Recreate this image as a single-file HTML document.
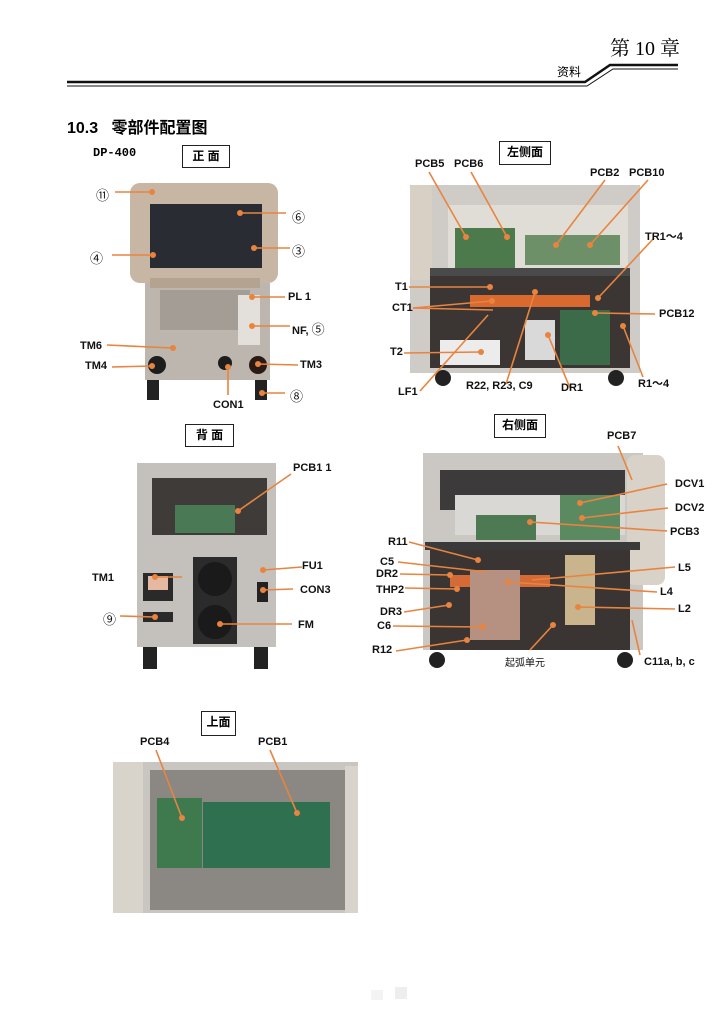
<!DOCTYPE html>
<html><head><meta charset="utf-8"><style>
body{margin:0;background:#fff;}
#p{position:relative;width:727px;height:1036px;overflow:hidden;font-family:"Liberation Sans","Noto Sans CJK SC",sans-serif;}
.a{position:absolute;}
.t{position:absolute;font-size:11px;font-weight:bold;color:#111;white-space:nowrap;font-family:"Liberation Sans Narrow","Liberation Sans","Noto Sans CJK SC",sans-serif;}
.box{position:absolute;border:1px solid #222;font-size:12px;font-weight:bold;text-align:center;line-height:20px;background:#fff;font-family:"Liberation Sans","Noto Sans CJK SC",sans-serif;}
</style></head><body><div id="p">
<div class="a" style="left:610px;top:37px;font-size:20px;line-height:24px;font-family:'Liberation Serif','Noto Serif CJK SC',serif;">第 10 章</div>
<div class="a" style="left:557px;top:64px;font-size:12px;line-height:16px;font-family:'Noto Sans CJK SC',sans-serif;">资料</div>
<svg class="a" style="left:0;top:0" width="727" height="1036">
<polyline points="67,82 585,82 610,65 678,65" fill="none" stroke="#111" stroke-width="2.5"/>
<polyline points="67,86 587,86 613,69 678,69" fill="none" stroke="#111" stroke-width="1"/>
</svg>
<div class="a" style="left:67px;top:114px;font-size:16px;font-weight:bold;font-family:'Liberation Sans','Noto Sans CJK SC',sans-serif;">10.3&nbsp;&nbsp; 零部件配置图</div>
<div class="a" style="left:93px;top:146px;font-size:12px;font-weight:bold;font-family:'Liberation Mono',monospace;">DP-400</div>
<div class="box" style="left:182px;top:145px;width:46px;height:21px;">正 面</div>
<div class="box" style="left:499px;top:141px;width:50px;height:22px;">左侧面</div>
<div class="box" style="left:185px;top:424px;width:47px;height:21px;">背 面</div>
<div class="box" style="left:494px;top:414px;width:50px;height:22px;">右侧面</div>
<div class="box" style="left:201px;top:711px;width:33px;height:23px;">上面</div>

<svg class="a" style="left:0;top:0" width="727" height="1036">
<!-- FRONT -->
<rect x="130" y="183" width="148" height="100" rx="10" fill="#c8b6a5"/>
<rect x="150" y="204" width="112" height="64" fill="#2a2c33"/>
<rect x="145" y="283" width="125" height="97" fill="#bdb6ae"/>
<rect x="160" y="290" width="90" height="40" fill="#a49d96"/>
<rect x="150" y="278" width="110" height="10" fill="#b5a392"/>
<rect x="238" y="295" width="22" height="50" fill="#e3e0dc"/>
<circle cx="157" cy="365" r="9" fill="#1d1d1d"/><circle cx="225" cy="363" r="7" fill="#1d1d1d"/><circle cx="258" cy="365" r="9" fill="#2a1a16"/>
<rect x="147" y="380" width="12" height="20" fill="#222"/><rect x="255" y="380" width="12" height="20" fill="#222"/>
<!-- LEFT SIDE -->
<rect x="410" y="185" width="230" height="188" fill="#cfccc7"/>
<rect x="410" y="185" width="22" height="95" rx="4" fill="#d8d0c4"/>
<rect x="448" y="205" width="180" height="63" fill="#e0ddd7"/>
<rect x="455" y="228" width="60" height="40" fill="#4c7a4c"/>
<rect x="525" y="235" width="95" height="30" fill="#6d9068"/>
<rect x="430" y="268" width="200" height="8" fill="#4a4a4a"/>
<rect x="430" y="276" width="200" height="92" fill="#3b3633"/>
<rect x="440" y="340" width="60" height="25" fill="#ececec"/>
<rect x="470" y="295" width="120" height="12" fill="#d86a30"/>
<rect x="560" y="310" width="50" height="55" fill="#3b6b48"/>
<rect x="525" y="320" width="30" height="40" fill="#d9d9d9"/>
<circle cx="443" cy="378" r="8" fill="#222"/><circle cx="616" cy="378" r="8" fill="#222"/>
<!-- BACK -->
<rect x="137" y="463" width="139" height="184" fill="#c4c0bc"/>
<rect x="152" y="478" width="115" height="57" fill="#3e3b38"/>
<rect x="175" y="505" width="60" height="28" fill="#4a7a55"/>
<rect x="193" y="557" width="44" height="87" fill="#2b2b2b"/>
<circle cx="215" cy="579" r="17" fill="#1a1a1a"/><circle cx="215" cy="622" r="17" fill="#1a1a1a"/>
<rect x="143" y="573" width="30" height="28" fill="#2a2a2a"/><rect x="148" y="576" width="20" height="14" fill="#e5b9a0"/>
<rect x="143" y="612" width="30" height="10" fill="#2a2a2a"/>
<rect x="257" y="582" width="11" height="20" fill="#222"/>
<rect x="143" y="647" width="14" height="22" fill="#222"/><rect x="254" y="647" width="14" height="22" fill="#222"/>
<!-- RIGHT SIDE -->
<rect x="423" y="453" width="220" height="197" fill="#cbc8c4"/>
<rect x="627" y="455" width="38" height="130" rx="8" fill="#d8d2c8"/>
<rect x="440" y="470" width="185" height="40" fill="#3c3a3a"/>
<rect x="455" y="495" width="170" height="40" fill="#dad8d4"/>
<rect x="476" y="515" width="60" height="25" fill="#4d7a52"/>
<rect x="560" y="495" width="60" height="45" fill="#5c8a60"/>
<rect x="425" y="542" width="215" height="8" fill="#3a3a3a"/>
<rect x="430" y="550" width="200" height="100" fill="#3a3532"/>
<rect x="450" y="575" width="100" height="12" fill="#d46a35"/>
<rect x="565" y="555" width="30" height="70" fill="#c9b48e"/>
<rect x="470" y="570" width="50" height="70" fill="#b69080"/>
<circle cx="437" cy="660" r="8" fill="#222"/><circle cx="625" cy="660" r="8" fill="#222"/>
<!-- TOP -->
<rect x="113" y="762" width="245" height="151" fill="#c9c6c2"/>
<rect x="113" y="762" width="30" height="151" fill="#d9d4cb"/>
<rect x="345" y="766" width="13" height="147" fill="#d9d4cb"/>
<rect x="150" y="770" width="195" height="140" fill="#8b8783"/>
<rect x="157" y="798" width="45" height="70" fill="#3f7a4e"/>
<rect x="203" y="802" width="127" height="66" fill="#2f7050"/>
<rect x="395" y="987" width="12" height="12" fill="#eee"/><rect x="371" y="990" width="12" height="10" fill="#f3f3f3"/>
<g stroke="#e8843f" stroke-width="1.6" fill="none">
<line x1="115" y1="192" x2="152" y2="192"/><line x1="112" y1="255" x2="153" y2="255"/>
<line x1="240" y1="213" x2="286" y2="213"/><line x1="254" y1="248" x2="290" y2="248"/>
<line x1="252" y1="297" x2="285" y2="297"/><line x1="252" y1="326" x2="290" y2="326"/>
<line x1="107" y1="345" x2="173" y2="348"/><line x1="112" y1="367" x2="152" y2="366"/>
<line x1="228" y1="367" x2="228" y2="395"/><line x1="258" y1="364" x2="298" y2="365"/><line x1="262" y1="393" x2="285" y2="393"/>
<line x1="429" y1="172" x2="466" y2="237"/><line x1="471" y1="172" x2="507" y2="237"/>
<line x1="605" y1="180" x2="556" y2="245"/><line x1="648" y1="180" x2="590" y2="245"/>
<line x1="654" y1="238" x2="598" y2="298"/><line x1="409" y1="287" x2="490" y2="287"/>
<line x1="413" y1="308" x2="492" y2="301"/><line x1="413" y1="308" x2="493" y2="310"/>
<line x1="404" y1="353" x2="481" y2="352"/><line x1="420" y1="391" x2="488" y2="315"/>
<line x1="506" y1="384" x2="535" y2="292"/><line x1="570" y1="388" x2="548" y2="335"/>
<line x1="655" y1="314" x2="595" y2="313"/><line x1="643" y1="377" x2="623" y2="326"/>
<line x1="182" y1="577" x2="155" y2="577"/><line x1="291" y1="474" x2="238" y2="511"/>
<line x1="302" y1="567" x2="263" y2="570"/><line x1="293" y1="589" x2="263" y2="590"/>
<line x1="120" y1="616" x2="155" y2="617"/><line x1="292" y1="624" x2="220" y2="624"/>
<line x1="618" y1="446" x2="632" y2="480"/><line x1="667" y1="484" x2="580" y2="503"/>
<line x1="668" y1="508" x2="582" y2="518"/><line x1="667" y1="531" x2="530" y2="522"/>
<line x1="409" y1="542" x2="478" y2="560"/><line x1="398" y1="562" x2="487" y2="572"/>
<line x1="400" y1="574" x2="450" y2="575"/><line x1="405" y1="588" x2="457" y2="589"/>
<line x1="404" y1="612" x2="449" y2="605"/><line x1="393" y1="626" x2="483" y2="627"/>
<line x1="396" y1="651" x2="467" y2="640"/><line x1="675" y1="567" x2="532" y2="580"/>
<line x1="657" y1="592" x2="508" y2="582"/><line x1="675" y1="609" x2="578" y2="607"/>
<line x1="530" y1="650" x2="553" y2="625"/><line x1="640" y1="655" x2="632" y2="620"/>
<line x1="156" y1="750" x2="182" y2="818"/><line x1="270" y1="750" x2="297" y2="813"/>
</g>
<g fill="#e8843f">
<circle cx="152" cy="192" r="3"/><circle cx="153" cy="255" r="3"/><circle cx="240" cy="213" r="3"/><circle cx="254" cy="248" r="3"/>
<circle cx="252" cy="297" r="3"/><circle cx="252" cy="326" r="3"/><circle cx="173" cy="348" r="3"/><circle cx="152" cy="366" r="3"/>
<circle cx="228" cy="367" r="3"/><circle cx="258" cy="364" r="3"/><circle cx="262" cy="393" r="3"/>
<circle cx="466" cy="237" r="3"/><circle cx="507" cy="237" r="3"/><circle cx="556" cy="245" r="3"/><circle cx="590" cy="245" r="3"/>
<circle cx="598" cy="298" r="3"/><circle cx="490" cy="287" r="3"/><circle cx="492" cy="301" r="3"/><circle cx="481" cy="352" r="3"/>
<circle cx="535" cy="292" r="3"/><circle cx="548" cy="335" r="3"/><circle cx="595" cy="313" r="3"/><circle cx="623" cy="326" r="3"/>
<circle cx="155" cy="577" r="3"/><circle cx="238" cy="511" r="3"/><circle cx="263" cy="570" r="3"/><circle cx="263" cy="590" r="3"/>
<circle cx="155" cy="617" r="3"/><circle cx="220" cy="624" r="3"/>
<circle cx="580" cy="503" r="3"/><circle cx="582" cy="518" r="3"/><circle cx="530" cy="522" r="3"/><circle cx="478" cy="560" r="3"/>
<circle cx="450" cy="575" r="3"/><circle cx="457" cy="589" r="3"/><circle cx="449" cy="605" r="3"/><circle cx="483" cy="627" r="3"/>
<circle cx="467" cy="640" r="3"/><circle cx="508" cy="582" r="3"/><circle cx="578" cy="607" r="3"/><circle cx="553" cy="625" r="3"/>
<circle cx="182" cy="818" r="3"/><circle cx="297" cy="813" r="3"/>
</g>
</svg>
<div class="t" style="left:96px;top:185px;font-size:13px;font-weight:normal">⑪</div>
<div class="t" style="left:90px;top:248px;font-size:13px;font-weight:normal">④</div>
<div class="t" style="left:292px;top:207px;font-size:13px;font-weight:normal">⑥</div>
<div class="t" style="left:292px;top:241px;font-size:13px;font-weight:normal">③</div>
<div class="t" style="left:288px;top:291px">PL 1</div>
<div class="t" style="left:292px;top:319px">NF, <span style="font-weight:normal;font-size:13px">⑤</span></div>
<div class="t" style="left:80px;top:340px">TM6</div>
<div class="t" style="left:85px;top:360px">TM4</div>
<div class="t" style="left:300px;top:359px">TM3</div>
<div class="t" style="left:213px;top:399px">CON1</div>
<div class="t" style="left:290px;top:386px;font-size:13px;font-weight:normal">⑧</div>
<div class="t" style="left:415px;top:158px">PCB5</div>
<div class="t" style="left:454px;top:158px">PCB6</div>
<div class="t" style="left:590px;top:167px">PCB2</div>
<div class="t" style="left:629px;top:167px">PCB10</div>
<div class="t" style="left:645px;top:228px">TR1～4</div>
<div class="t" style="left:395px;top:281px">T1</div>
<div class="t" style="left:392px;top:302px">CT1</div>
<div class="t" style="left:390px;top:346px">T2</div>
<div class="t" style="left:659px;top:308px">PCB12</div>
<div class="t" style="left:398px;top:386px">LF1</div>
<div class="t" style="left:466px;top:380px">R22, R23, C9</div>
<div class="t" style="left:561px;top:382px">DR1</div>
<div class="t" style="left:638px;top:375px">R1～4</div>
<div class="t" style="left:293px;top:462px">PCB1 1</div>
<div class="t" style="left:92px;top:572px">TM1</div>
<div class="t" style="left:302px;top:560px">FU1</div>
<div class="t" style="left:300px;top:584px">CON3</div>
<div class="t" style="left:103px;top:609px;font-size:13px;font-weight:normal">⑨</div>
<div class="t" style="left:298px;top:619px">FM</div>
<div class="t" style="left:607px;top:430px">PCB7</div>
<div class="t" style="left:675px;top:478px">DCV1</div>
<div class="t" style="left:675px;top:502px">DCV2</div>
<div class="t" style="left:670px;top:526px">PCB3</div>
<div class="t" style="left:388px;top:536px">R11</div>
<div class="t" style="left:380px;top:556px">C5</div>
<div class="t" style="left:376px;top:568px">DR2</div>
<div class="t" style="left:376px;top:584px">THP2</div>
<div class="t" style="left:380px;top:606px">DR3</div>
<div class="t" style="left:377px;top:620px">C6</div>
<div class="t" style="left:372px;top:644px">R12</div>
<div class="t" style="left:678px;top:562px">L5</div>
<div class="t" style="left:660px;top:586px">L4</div>
<div class="t" style="left:678px;top:603px">L2</div>
<div class="t" style="left:505px;top:654px;font-weight:normal;font-size:10px">起弧单元</div>
<div class="t" style="left:644px;top:656px">C11a, b, c</div>
<div class="t" style="left:140px;top:736px">PCB4</div>
<div class="t" style="left:258px;top:736px">PCB1</div>
</div></body></html>
